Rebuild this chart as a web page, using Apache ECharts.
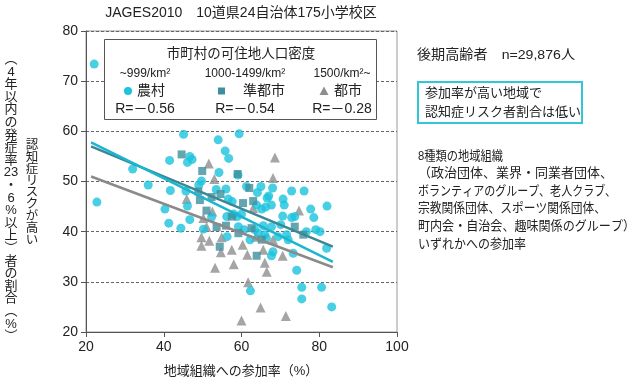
<!DOCTYPE html>
<html><head><meta charset="utf-8">
<script src="https://cdn.jsdelivr.net/npm/echarts@6/dist/echarts.min.js"></script>
<style>html,body{margin:0;padding:0;background:#fff}#c{width:640px;height:381px}</style>
</head><body><div id="c"></div>
<script>
const FONT = "'Liberation Sans','Noto Sans CJK JP',sans-serif";
const titleText = 'JAGES2010　10道県24自治体175小学校区';
const xAxisName = '地域組織への参加率（%）';
const yOuterChars = ['︵','4','年','以','内','の','発','症','率','23','・','6','%','以','上','︶','者','の','割','合','︵','%','︶'];
const yInnerChars = ['認','知','症','リ','ス','ク','が','高','い'];
const legendTitle = '市町村の可住地人口密度';
const densityLabels = ['~999/km²', '1000-1499/km²', '1500/km²~'];
const categoryNames = ['農村', '準都市', '都市'];
const rValues = ['R=－0.56', 'R=－0.54', 'R=－0.28'];
const sampleText = '後期高齢者　n=29,876人';
const boxLines = ['参加率が高い地域で', '認知症リスク者割合は低い'];
const orgLines = ['8種類の地域組織', '（政治団体、業界・同業者団体、', 'ボランティアのグループ、老人クラブ、', '宗教関係団体、スポーツ関係団体、', '町内会・自治会、趣味関係のグループ）', 'いずれかへの参加率'];

const rural = [
[22.1,73.4],[22.8,45.9],[32.0,52.5],[36.0,49.3],[40.3,44.5],[41.3,41.7],[41.5,54.2],[41.7,48.2],
[44.4,40.7],[45.1,59.4],[45.7,48.1],[46.1,45.1],[46.1,53.8],[46.7,55.0],[47.3,54.4],[46.7,42.4],
[49.0,49.3],[49.7,50.1],[50.2,40.5],[52.3,42.9],[53.5,48.4],[54.0,58.3],[54.2,51.8],[55.8,56.1],
[56.0,48.5],[56.2,43.0],[56.3,39.0],[56.7,54.6],[56.6,46.5],[57.6,46.0],[58.0,43.5],[58.9,43.0],
[59.1,51.3],[59.2,41.0],[59.4,59.5],[60.0,43.5],[60.7,40.4],[61.3,49.0],[62.2,38.4],[62.3,28.2],
[63.4,40.4],[63.9,45.3],[64.1,47.8],[64.3,39.7],[65.0,49.0],[65.2,44.5],[65.6,41.2],[66.0,39.4],
[66.2,44.9],[66.4,38.7],[66.6,46.7],[67.0,47.1],[67.7,45.3],[67.7,41.0],[68.0,48.7],[68.1,36.0],
[67.7,35.2],[69.4,39.0],[70.1,41.4],[70.6,43.1],[70.7,46.5],[71.0,45.3],[71.6,39.4],[72.0,38.4],
[72.9,48.1],[72.9,42.8],[73.3,35.7],[73.7,43.0],[74.2,32.3],[75.5,28.9],[75.5,26.6],[76.1,48.1],
[76.7,40.0],[77.8,44.5],[78.6,42.8],[79.1,40.4],[80.2,40.0],[80.6,28.9],[81.9,36.7],[82.0,45.1],
[83.2,25.0]
];
const semiUrban = [
[44.6,55.4],[49.9,52.1],[59.0,51.5],[48.9,48.0],[49.3,46.3],[52.3,46.9],[54.6,47.5],[51.0,44.2],
[60.4,45.7],[53.6,40.9],[56.0,41.2],[54.4,37.0],[59.2,39.7],[62.0,48.7],[63.0,46.1],[62.6,40.7],
[65.2,38.4],[63.9,35.2],[73.7,41.0],[75.9,39.4],[57.5,43.0]
];
const urban = [
[51.6,53.6],[53.0,50.5],[45.9,46.5],[52.5,44.0],[50.2,42.7],[51.0,41.0],[49.7,38.9],[51.7,38.2],
[49.7,37.2],[54.9,38.9],[54.7,35.9],[57.5,36.4],[60.3,37.4],[61.5,35.4],[53.2,32.8],[58.0,33.5],
[61.7,29.9],[60.0,22.3],[68.6,54.8],[68.1,50.7],[74.8,44.2],[63.0,44.7],[63.7,39.0],[68.1,38.4],
[65.6,36.4],[66.0,33.8],[66.5,32.0],[70.6,35.2],[64.9,24.9],[71.4,23.2]
];
const ruralFit = [[21.3,57.8],[83.5,34.0]];
const semiFit = [[21.3,57.0],[83.5,37.0]];
const urbanFit = [[21.3,51.0],[83.5,32.9]];

// layout: target widths (px) of the right-hand description lines
const orgLineWidths = [85, 195, 198, 188, 217, 108];

const C_RURAL = '#1cc3dc', C_SEMI = '#3e8e9c', C_URBAN = '#8e8e8e';
const C_RURAL_LINE = '#1ab6d0', C_SEMI_LINE = '#3b8796', C_URBAN_LINE = '#8a8a8a';

const mctx = document.createElement('canvas').getContext('2d');
function fitScale(text, size, target) {
  mctx.font = size + 'px ' + FONT;
  return target / mctx.measureText(text).width;
}

const chart = echarts.init(document.getElementById('c'), null, {renderer: 'canvas'});
const txt = (x, y, text, size, extra, el) => Object.assign({
  type: 'text', x: x, y: y, z: 100,
  style: Object.assign({text: text, font: size + 'px ' + FONT, fill: '#222', textVerticalAlign: 'middle'}, extra || {})
}, el || {});
const colX = [145, 245, 342];
const graphics = [
  txt(241, 13, titleText, 14, {textAlign: 'center'}),
  txt(11, 198, yOuterChars.join('\n'), 13, {textAlign: 'center', lineHeight: 12.6}),
  txt(32, 193, yInnerChars.join('\n'), 12.5, {textAlign: 'center', lineHeight: 11.8}),
  txt(241, 371, xAxisName, 13, {textAlign: 'center'}),
  {type: 'rect', z: 90, shape: {x: 104.5, y: 39.5, width: 272, height: 80}, style: {fill: '#fff', stroke: '#555', lineWidth: 1}},
  txt(241, 54, legendTitle, 13.5, {textAlign: 'center'}),
  txt(417, 55, sampleText, 13.5, {textAlign: 'left'}, {scaleX: fitScale(sampleText, 13.5, 158)}),
  {type: 'rect', z: 90, shape: {x: 418, y: 82, width: 164, height: 41}, style: {fill: 'none', stroke: '#33c5d8', lineWidth: 2}},
  txt(425, 93, boxLines[0], 13, {textAlign: 'left'}),
  txt(425, 112, boxLines[1], 13, {textAlign: 'left'})
];
orgLines.forEach((l, i) => graphics.push(txt(418, 156 + i * 17.6, l, 13, {textAlign: 'left'}, {scaleX: fitScale(l, 13, orgLineWidths[i])})));
densityLabels.forEach((l, i) => graphics.push(txt(colX[i], 74, l, 12, {textAlign: 'center'})));
rValues.forEach((l, i) => graphics.push(txt(colX[i], 109, l, 14, {textAlign: 'center'})));
categoryNames.forEach((l, i) => graphics.push(txt(colX[i] - 8 + (i === 1 ? 6 : 0), 91, l, 14, {textAlign: 'left'})));
graphics.push({type: 'circle', z: 100, shape: {cx: 128, cy: 91, r: 4}, style: {fill: C_RURAL}});
graphics.push({type: 'rect', z: 100, shape: {x: 218, y: 87.5, width: 7, height: 7}, style: {fill: C_SEMI}});
graphics.push({type: 'polygon', z: 100, shape: {points: [[324, 86.5], [328.5, 95], [319.5, 95]]}, style: {fill: C_URBAN}});

const tickLabel = {color: '#222', fontSize: 14, fontFamily: FONT};
chart.setOption({
  animation: false,
  backgroundColor: '#fff',
  grid: {left: 86, right: 243, top: 31, bottom: 49, show: true, borderColor: '#999', borderWidth: 1, backgroundColor: 'transparent'},
  xAxis: {
    type: 'value', min: 20, max: 100, interval: 20,
    axisLine: {show: true, lineStyle: {color: '#555'}},
    axisTick: {show: true, length: 5, lineStyle: {color: '#555'}},
    axisLabel: Object.assign({margin: 8}, tickLabel),
    splitLine: {show: false}
  },
  yAxis: {
    type: 'value', min: 20, max: 80, interval: 10,
    axisLine: {show: true, lineStyle: {color: '#555'}},
    axisTick: {show: true, length: 5, lineStyle: {color: '#555'}},
    axisLabel: Object.assign({margin: 8}, tickLabel),
    splitLine: {show: true, lineStyle: {color: '#666', type: [3, 2], width: 1}}
  },
  graphic: graphics,
  series: [
    {type: 'scatter', name: categoryNames[2], data: urban, symbol: 'triangle', symbolSize: 10, itemStyle: {color: C_URBAN}, z: 2},
    {type: 'scatter', name: categoryNames[0], data: rural, symbol: 'circle', symbolSize: 9, itemStyle: {color: C_RURAL}, z: 3},
    {type: 'scatter', name: categoryNames[1], data: semiUrban, symbol: 'rect', symbolSize: 8, itemStyle: {color: C_SEMI}, z: 4},
    {type: 'line', data: urbanFit, symbol: 'none', lineStyle: {color: C_URBAN_LINE, width: 2.5}, z: 5},
    {type: 'line', data: semiFit, symbol: 'none', lineStyle: {color: C_SEMI_LINE, width: 2.5}, z: 5},
    {type: 'line', data: ruralFit, symbol: 'none', lineStyle: {color: C_RURAL_LINE, width: 2.5}, z: 6}
  ]
});
</script></body></html>
